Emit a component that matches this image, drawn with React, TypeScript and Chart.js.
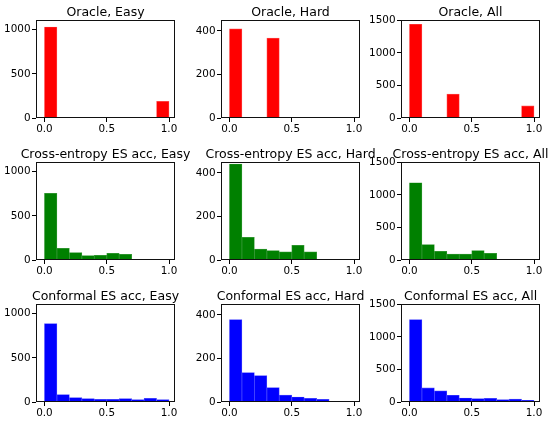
import React, { useEffect, useRef } from 'react';
import { Chart, registerables } from 'chart.js';

Chart.register(...registerables);

// ---- data ----
const binCenters = [0.05, 0.15, 0.25, 0.35, 0.45, 0.55, 0.65, 0.75, 0.85, 0.95];
const xTickValues = [0, 0.5, 1.0];

const oracleEasy = [1031, 0, 0, 0, 0, 0, 0, 0, 0, 188];
const oracleHard = [409, 0, 0, 367, 0, 0, 0, 0, 0, 0];
const oracleAll = [1440, 0, 0, 367, 0, 0, 0, 0, 0, 188];

const ceEasy = [755, 133, 83, 49, 53, 76, 65, 0, 0, 0];
const ceHard = [441, 104, 50, 43, 37, 67, 37, 0, 0, 0];
const ceAll = [1187, 237, 133, 92, 90, 143, 102, 0, 0, 0];

const confEasy = [888, 83, 49, 38, 30, 30, 38, 26, 42, 26];
const confHard = [378, 135, 121, 66, 32, 23, 17, 12, 3, 1];
const confAll = [1266, 218, 170, 104, 62, 53, 55, 38, 45, 27];

const rowTitles = ['Oracle', 'Cross-entropy ES acc', 'Conformal ES acc'];
const colTitles = ['Easy', 'Hard', 'All'];
const rowColors = ['#ff0000', '#008000', '#0000ff'];
const rowEdgeColors = ['#ff5555', '#3a9a3a', '#5050ff'];
const rowData = [
  [oracleEasy, oracleHard, oracleAll],
  [ceEasy, ceHard, ceAll],
  [confEasy, confHard, confAll],
];
const colYTicks = [
  [0, 500, 1000],
  [0, 200, 400],
  [0, 500, 1000, 1500],
];
const colYMax = [1110, 450, 1505];
const xMin = -0.068;
const xMax = 1.048;

// ---- layout ----
const FIG_W = 557;
const FIG_H = 424;
const colLeft = [36, 221, 401];
const rowTop = [20, 162, 304];
const AX_W = 139;
const AX_H = 98;
const Y_AXIS_W = 35;
const X_AXIS_H = 20;
const FONT = '"DejaVu Sans", sans-serif';

const framePlugin = {
  id: 'frameTitle',
  afterDatasetsDraw(chart: any) {
    const { ctx, chartArea: a } = chart;
    const title = chart.options.plugins.frameTitle?.text || '';
    ctx.save();
    ctx.strokeStyle = '#111';
    ctx.lineWidth = 1;
    ctx.strokeRect(a.left + 0.5, a.top + 0.5, a.right - a.left - 1, a.bottom - a.top - 1);
    ctx.fillStyle = '#000';
    ctx.font = `12.5px ${FONT}`;
    ctx.textAlign = 'center';
    ctx.textBaseline = 'alphabetic';
    ctx.fillText(title, (a.left + a.right) / 2, a.top - 4.5);
    ctx.restore();
  },
};

export default function App() {
  const refs = useRef<(HTMLCanvasElement | null)[]>([]);

  useEffect(() => {
    const charts: Chart[] = [];
    for (let r = 0; r < 3; r++) {
      for (let c = 0; c < 3; c++) {
        const canvas = refs.current[r * 3 + c];
        if (!canvas) continue;
        const vals = rowData[r][c];
        const yTicks = colYTicks[c];
        const L = colLeft[c];
        const T = rowTop[r];
        const chart = new Chart(canvas, {
          type: 'bar',
          data: {
            datasets: [
              {
                data: binCenters.map((x, i) => ({ x, y: vals[i] })),
                backgroundColor: rowColors[r],
                borderColor: rowEdgeColors[r],
                borderWidth: 0.7,
                borderSkipped: 'start',
                barPercentage: 1,
                categoryPercentage: 1,
              } as any,
            ],
          },
          options: {
            animation: false,
            responsive: false,
            maintainAspectRatio: false,
            events: [],
            layout: {
              padding: {
                left: L - Y_AXIS_W,
                top: T,
                right: FIG_W - (L + AX_W),
                bottom: FIG_H - (T + AX_H) - X_AXIS_H,
              },
            },
            plugins: {
              legend: { display: false },
              tooltip: { enabled: false },
              title: { display: false },
              frameTitle: { text: `${rowTitles[r]}, ${colTitles[c]}` },
            } as any,
            scales: {
              x: {
                type: 'linear',
                min: xMin,
                max: xMax,
                offset: false,
                afterBuildTicks: (s: any) => {
                  s.ticks = xTickValues.map((v) => ({ value: v }));
                },
                afterFit: (s: any) => {
                  s.height = X_AXIS_H;
                },
                grid: {
                  drawOnChartArea: false,
                  drawTicks: true,
                  tickLength: 4,
                  color: '#000',
                  offset: false,
                },
                border: { display: false },
                ticks: {
                  color: '#000',
                  padding: 1,
                  maxRotation: 0,
                  autoSkip: false,
                  font: { family: FONT, size: 10.4 },
                  callback: (v: any) => Number(v).toFixed(1),
                },
              },
              y: {
                type: 'linear',
                min: 0,
                max: colYMax[c],
                afterBuildTicks: (s: any) => {
                  s.ticks = yTicks.map((v) => ({ value: v }));
                },
                afterFit: (s: any) => {
                  s.width = Y_AXIS_W;
                },
                grid: {
                  drawOnChartArea: false,
                  drawTicks: true,
                  tickLength: 4,
                  color: '#000',
                },
                border: { display: false },
                ticks: {
                  color: '#000',
                  padding: 1.5,
                  autoSkip: false,
                  font: { family: FONT, size: 10.4 },
                  callback: (v: any) => String(v),
                },
              },
            },
          } as any,
          plugins: [framePlugin],
        });
        charts.push(chart);
      }
    }
    return () => charts.forEach((ch) => ch.destroy());
  }, []);

  return (
    <div
      style={{
        position: 'fixed',
        left: 0,
        top: 0,
        width: FIG_W,
        height: FIG_H,
        background: '#fff',
        overflow: 'hidden',
      }}
    >
      {Array.from({ length: 9 }).map((_, i) => (
        <canvas
          key={i}
          ref={(el) => {
            refs.current[i] = el;
          }}
          width={FIG_W}
          height={FIG_H}
          style={{ position: 'absolute', left: 0, top: 0, width: FIG_W, height: FIG_H }}
        />
      ))}
    </div>
  );
}
